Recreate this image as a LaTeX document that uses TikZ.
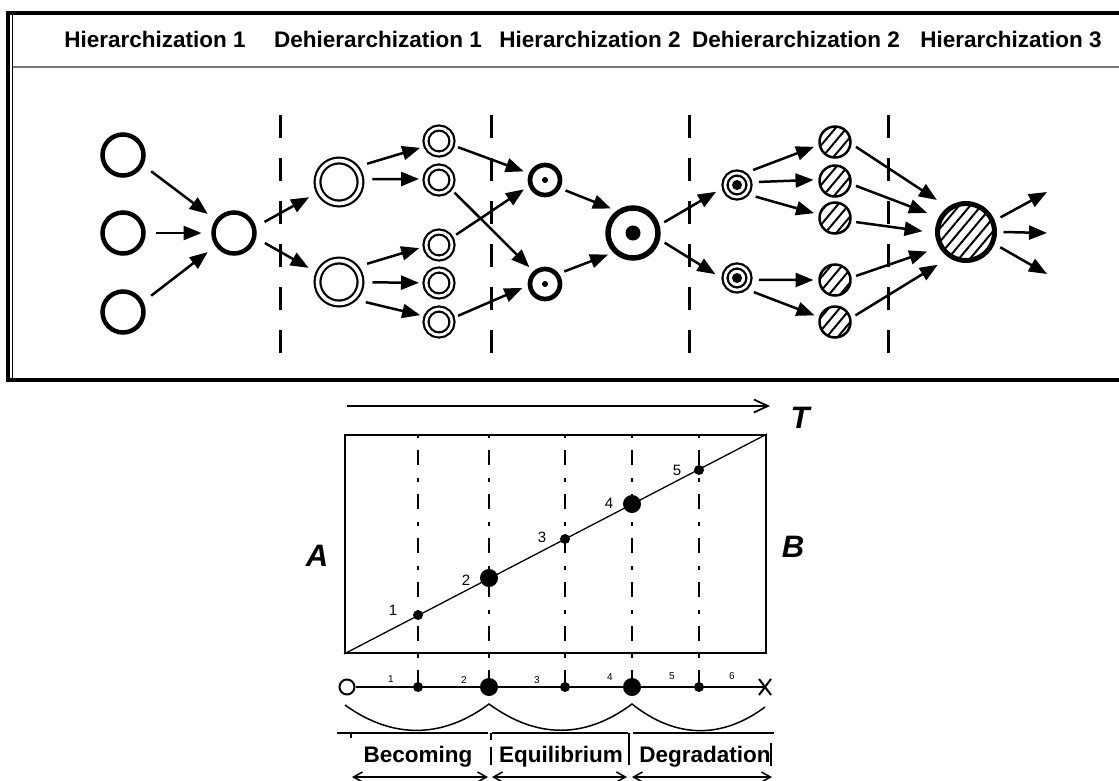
\documentclass[tikz,border=0pt]{standalone}
\usepackage{fontspec}
\setmainfont{Liberation Sans}
\usetikzlibrary{arrows.meta,patterns.meta}
\tikzstyle{plainc}=[circle, draw, line width=4.5pt, minimum size=41pt, inner sep=0pt, outer sep=12pt]
\tikzstyle{twinc}=[circle, draw, double, line width=2.2pt, double distance=2.8pt, minimum size=26pt, inner sep=0pt, outer sep=7pt]
\tikzstyle{bigtwinc}=[twinc, double distance=3.6pt, minimum size=43pt, outer sep=12pt]
\tikzstyle{bullc}=[circle, draw, line width=4.7pt, minimum size=30pt, inner sep=0pt, outer sep=8pt, path picture={\fill (path picture bounding box.center) circle (3pt);}]
\tikzstyle{bigbullc}=[circle, draw, line width=5.5pt, minimum size=50pt, inner sep=0pt, outer sep=8pt, path picture={\fill (path picture bounding box.center) circle (7.5pt);}]
\tikzstyle{trinc}=[twinc, line width=2.3pt, double distance=2.7pt, minimum size=24pt, outer sep=10pt, path picture={\fill (path picture bounding box.center) circle (5pt);}]
\tikzstyle{hatchc}=[circle, draw, line width=2.5pt, minimum size=31pt, inner sep=0pt, outer sep=6pt, pattern={Lines[angle=50,distance=8.5pt,line width=2pt]}]
\tikzstyle{bighatchc}=[hatchc, line width=5pt, minimum size=57pt, outer sep=9pt]
\tikzstyle{arr}=[line width=2.5pt, -{Triangle[length=18pt,width=14pt]}]
\tikzstyle{cutline}=[line width=3pt, dash pattern=on 23pt off 20pt]
\tikzstyle{hdr}=[font=\fontsize{22.5}{27}\selectfont\bfseries, inner sep=0pt, anchor=base]
\tikzstyle{baseln}=[line width=2pt]
\tikzstyle{guide}=[line width=2.3pt, dash pattern=on 4pt off 12pt on 15pt off 13pt]
\tikzstyle{sdot}=[circle, fill, inner sep=0pt, minimum size=10pt]
\tikzstyle{bdot}=[circle, fill, inner sep=0pt, minimum size=18pt]
\tikzstyle{num}=[font=\fontsize{15}{15}\selectfont, inner sep=0pt]
\tikzstyle{tnum}=[font=\fontsize{10}{10}\selectfont, inner sep=0pt]
\tikzstyle{letter}=[font=\fontsize{31}{32}\selectfont\bfseries\itshape, inner sep=0pt]
\tikzstyle{span}=[line width=1.5pt, {Straight Barb[length=9pt,width=10pt]}-{Straight Barb[length=9pt,width=10pt]}]

\begin{document}
\begin{tikzpicture}[x=1pt, y=-1pt]
\useasboundingbox (0,0) rectangle (1119,780);
\fill[white] (0,0) rectangle (1119,780);
% top panel
\draw[line width=3.5pt] (8,13) rectangle (1140,380);
\draw[line width=1.5pt] (12.5,13) -- (12.5,380);
\draw[line width=2pt, black!55] (12.5,67) -- (1140,67);
\node[hdr] (t1) at (155,47) {Hierarchization 1};
\node[hdr] (t2) at (378,47) {Dehierarchization 1};
\node[hdr] (t3) at (590,47) {Hierarchization 2};
\node[hdr] (t4) at (796,47) {Dehierarchization 2};
\node[hdr] (t5) at (1011,47) {Hierarchization 3};
\foreach \x in {280,491,689,888} \draw[cutline] (\x,115) -- (\x,353);

\node[plainc] (a1) at (123,155) {};
\node[plainc] (a2) at (123,233) {};
\node[plainc] (a3) at (123,312) {};
\node[plainc] (b) at (234,233) {};
\node[bigtwinc] (c1) at (339,182) {};
\node[bigtwinc] (c2) at (339,282) {};
\node[twinc] (d1) at (439,141) {};
\node[twinc] (d2) at (439,180) {};
\node[twinc] (d3) at (439,245) {};
\node[twinc] (d4) at (439,283) {};
\node[twinc] (d5) at (439,322) {};
\node[bullc] (e1) at (545,180) {};
\node[bullc] (e2) at (545,284) {};
\node[bigbullc] (f) at (633,233) {};
\node[trinc] (g1) at (737,185) {};
\node[trinc] (g2) at (737,278) {};
\node[hatchc] (h1) at (835,142) {};
\node[hatchc] (h2) at (835,181) {};
\node[hatchc] (h3) at (835,218) {};
\node[hatchc] (h4) at (835,280) {};
\node[hatchc] (h5) at (835,322) {};
\node[bighatchc] (k) at (966,232) {};
\coordinate (o1) at (1047,192);
\coordinate (o2) at (1047,233);
\coordinate (o3) at (1047,274);

\draw[arr] (a1.-30) -- (b.144);
\draw[arr] (a2) -- (b);
\draw[arr] (a3.30) -- (b.216);
\draw[arr] (b.20) -- (c1.207);
\draw[arr] (b.-18) -- (c2.155);
\draw[arr] (c1.33) -- (d1.200);
\draw[arr] (c1.5) -- (d2.177);
\draw[arr] (c2.33) -- (d3.189);
\draw[arr] (c2) -- (d4);
\draw[arr] (c2.-37) -- (d5.160);
\draw[arr] (d1.-18) -- (e1.158);
\draw[arr] (d2.-39) -- (e2.133);
\draw[arr] (d3.31) -- (e1.204);
\draw[arr] (d5.18) -- (e2.190);
\draw[arr] (e1.-27) -- (f.132);
\draw[arr] (e2.33) -- (f.221);
\draw[arr] (f.19) -- (g1.198);
\draw[arr] (f.-17) -- (g2.170);
\draw[arr] (g1.43) -- (h1.193);
\draw[arr] (g1.8) -- (h2.177);
\draw[arr] (g1.-32) -- (h3.167);
\draw[arr] (g2.-5) -- (h4.180);
\draw[arr] (g2.-40) -- (h5.162);
\draw[arr, shorten >=6pt] (h1.-13) -- (k.130);
\draw[arr, shorten >=6pt] (h2.-13) -- (k.153);
\draw[arr, shorten >=6pt] (h3.-11) -- (k.180);
\draw[arr, shorten >=6pt] (h4.11) -- (k.208);
\draw[arr, shorten >=6pt] (h5.18) -- (k.232);
\draw[arr] (k.23) -- (o1);
\draw[arr] (k.0) -- (o2);
\draw[arr] (k.-24) -- (o3);

% bottom panel
\coordinate (tl) at (347,406);
\coordinate (tr) at (770,406);
\draw[line width=1.8pt, -{Straight Barb[length=14pt,width=13pt]}] (tl) -- (tr);
\node[letter] (lt) at (800,418) {T};
\node[letter] (la) at (317,556) {A};
\node[letter] (lb) at (793,547) {B};
\node[draw, line width=2pt, minimum width=421pt, minimum height=218pt, inner sep=0pt] (plane) at (555.5,544) {};
\draw[line width=1.3pt] (plane.south west) -- (plane.north east);

\node[sdot] (p1) at (418,615) {};
\node[bdot] (p2) at (489,578) {};
\node[sdot] (p3) at (565,539) {};
\node[bdot] (p4) at (632,504) {};
\node[sdot] (p5) at (699,470) {};
\node[num] (n1) at (393,610) {1};
\node[num] (n2) at (466,580) {2};
\node[num] (n3) at (542,537) {3};
\node[num] (n4) at (609,503) {4};
\node[num] (n5) at (677,470) {5};

\node[circle, draw, fill=white, line width=2pt, minimum size=15pt, inner sep=0pt] (q0) at (347,687) {};
\coordinate (q6) at (765,687);
\draw[baseln] (q0) -- (q6);
\draw[baseln] (q6) ++(-6,-8) -- ++(12,16) (q6) ++(-6,8) -- ++(12,-16);
\node[sdot] (q1) at (418,687) {};
\node[bdot] (q2) at (489,687) {};
\node[sdot] (q3) at (565,687) {};
\node[bdot] (q4) at (632,687) {};
\node[sdot] (q5) at (699,687) {};
\foreach \i in {1,...,5} \draw[guide] (p\i |- plane.north) -- (q\i.center);
\node[tnum] (m1) at (391,679) {1};
\node[tnum] (m2) at (464,680) {2};
\node[tnum] (m3) at (537,680) {3};
\node[tnum] (m4) at (610,677) {4};
\node[tnum] (m5) at (672,676) {5};
\node[tnum] (m6) at (732,676) {6};

\draw[line width=1.5pt] (345,705) .. controls (392,739) and (442,739) .. (489,704)
  .. controls (537,739) and (585,739) .. (632,704)
  .. controls (676,739) and (722,739) .. (765,707);
\draw[baseln] (337,733) -- (488,733) (492,733) -- (628,733) (633,733) -- (774,733);
\draw[baseln] (351,733) -- (351,738) (491,733) -- (491,740) (491,747) -- (491,765)
  (629,733) -- (629,765) (771,743) -- (771,766);
\node[hdr] (s1) at (418,762) {Becoming};
\node[hdr] (s2) at (561,762) {Equilibrium};
\node[hdr] (s3) at (705,762) {Degradation};
\coordinate (w0) at (352,777);
\coordinate (w1) at (488,777);
\coordinate (w2) at (492,777);
\coordinate (w3) at (627,777);
\coordinate (w4) at (632,777);
\coordinate (w5) at (772,777);
\draw[span] (w0) -- (w1);
\draw[span] (w2) -- (w3);
\draw[span] (w4) -- (w5);
\end{tikzpicture}
\end{document}
